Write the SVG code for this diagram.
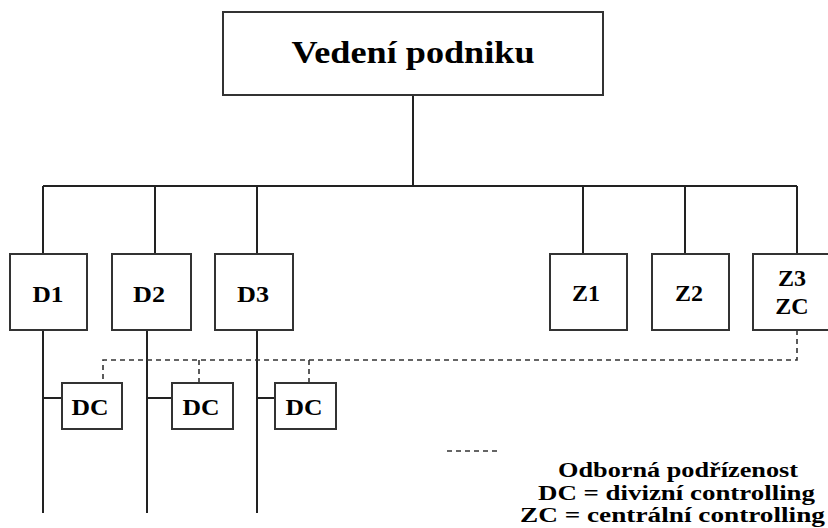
<svg xmlns="http://www.w3.org/2000/svg" width="828" height="528" viewBox="0 0 828 528">
<style>
.box{fill:#fff;stroke:#333;stroke-width:2}
.ln{fill:none;stroke:#222;stroke-width:2}
.dash{fill:none;stroke:#333;stroke-width:1.6;stroke-dasharray:5,4}
text{font-family:'Liberation Serif',Tinos,'Times New Roman',serif;font-weight:700;fill:#000;text-anchor:middle}
.n{font-size:24px}
.t{font-size:32px}
.l{font-size:20px}
</style>
<rect width="828" height="528" fill="#fff"/>
<g id="connectors">
<path class="ln" d="M413,95V186M43,186H797M43,186V254M155,186V254M257,186V254M583,186V254M685,186V254M797,186V254"/>
<path class="ln" d="M43,330V513M147,330V513M257,330V513M43,398H62M147,398H172M257,398H275"/>
<path class="dash" d="M797,330V360H103V383M199,360V383M309,360V383"/>
</g>
<g id="top"><rect class="box" x="223" y="12" width="380" height="83"/><text class="t" x="413" y="63" textLength="243" lengthAdjust="spacingAndGlyphs">Vedení podniku</text></g>
<g id="d1"><rect class="box" x="10" y="254" width="77" height="76"/><text class="n" x="48" y="302" textLength="31" lengthAdjust="spacingAndGlyphs">D1</text></g>
<g id="d2"><rect class="box" x="112" y="254" width="79" height="76"/><text class="n" x="149" y="302" textLength="32" lengthAdjust="spacingAndGlyphs">D2</text></g>
<g id="d3"><rect class="box" x="215" y="254" width="78" height="76"/><text class="n" x="253" y="302" textLength="32" lengthAdjust="spacingAndGlyphs">D3</text></g>
<g id="z1"><rect class="box" x="550" y="254" width="77" height="76"/><text class="n" x="586" y="301" textLength="28" lengthAdjust="spacingAndGlyphs">Z1</text></g>
<g id="z2"><rect class="box" x="652" y="254" width="77" height="76"/><text class="n" x="689" y="301" textLength="28" lengthAdjust="spacingAndGlyphs">Z2</text></g>
<g id="z3"><rect class="box" x="753" y="254" width="80" height="76"/><text class="n" x="792" y="286">Z3</text><text class="n" x="792" y="314">ZC</text></g>
<g id="dc1"><rect class="box" x="62" y="383" width="60" height="46"/><text class="n" x="90" y="415" textLength="37" lengthAdjust="spacingAndGlyphs">DC</text></g>
<g id="dc2"><rect class="box" x="172" y="383" width="61" height="46"/><text class="n" x="201" y="415" textLength="37" lengthAdjust="spacingAndGlyphs">DC</text></g>
<g id="dc3"><rect class="box" x="275" y="383" width="61" height="46"/><text class="n" x="304" y="415" textLength="37" lengthAdjust="spacingAndGlyphs">DC</text></g>
<g id="legend">
<path class="dash" d="M447,451H498" stroke-dasharray="6,4"/>
<text class="l" x="678" y="477" textLength="240" lengthAdjust="spacingAndGlyphs">Odborná podřízenost</text>
<text class="l" x="676.5" y="500" textLength="277" lengthAdjust="spacingAndGlyphs">DC = divizní  controlling</text>
<text class="l" x="672.5" y="522" textLength="305" lengthAdjust="spacingAndGlyphs">ZC = centrální  controlling</text>
</g>
</svg>
